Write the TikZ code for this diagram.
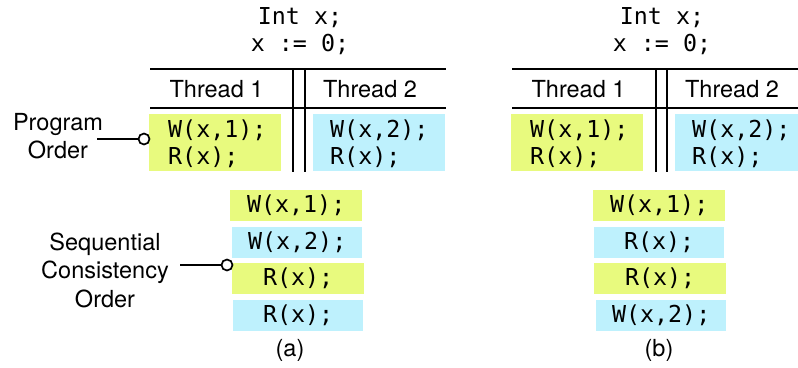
\documentclass[tikz,border=0pt]{standalone}
\usepackage{fontspec}
\setmainfont{TeX Gyre Heros}
\newfontfamily\codefont{DejaVu Sans Mono}
\definecolor{ylw}{RGB}{232,250,126}
\definecolor{blu}{RGB}{190,241,253}
\begin{document}
\begin{tikzpicture}[x=1pt,y=-1pt,
  code/.style={font={\fontsize{23.3}{27}\selectfont\codefont},inner sep=0pt,align=left},
  lbl/.style={font={\fontsize{23.5}{28}\selectfont},inner sep=0pt,align=center},
  rule/.style={line width=1.5pt},
  ybox/.style={fill=ylw,draw=none,inner sep=0pt,anchor=north west},
  bbox/.style={fill=blu,draw=none,inner sep=0pt,anchor=north west},
  pin/.style={circle,draw,line width=1.7pt,fill=white,minimum size=11pt,inner sep=0pt},
  conn/.style={line width=1.5pt}]
\useasboundingbox (0,0) rectangle (798,367);

% ---------- (a) ----------
\node[code,align=center] (ia) at (300,31) {Int x;\\x := 0;};
\coordinate (ha1) at (150,69);  \coordinate (ha2) at (446,69);
\coordinate (hb1) at (150,108); \coordinate (hb2) at (446,108);
\draw[rule] (ha1) -- (ha2);
\draw[rule] (hb1) -- (hb2);
\coordinate (va1) at (293,69); \coordinate (va2) at (293,172);
\coordinate (vb1) at (305,69); \coordinate (vb2) at (305,172);
\draw[rule] (va1) -- (va2);
\draw[rule] (vb1) -- (vb2);
\node[lbl] (th1a) at (216.5,89) {Thread 1};
\node[lbl] (th2a) at (370,89) {Thread 2};
\node[ybox,minimum width=132pt,minimum height=57pt] (p1a) at (149,114) {};
\node[bbox,minimum width=132pt,minimum height=57pt] (p2a) at (313,114) {};
\node[code,anchor=west] (c1a) at ([xshift=19pt,yshift=-1pt]p1a.west) {W(x,1);\\R(x);};
\node[code,anchor=west] (c2a) at ([xshift=17pt,yshift=-1pt]p2a.west) {W(x,2);\\R(x);};

\node[lbl] (po) at (58,136.5) {Program\\Order};
\coordinate (poS) at (97,139);
\node[pin] (poC) at (144,139) {};
\draw[conn] (poS) -- (poC);

\node[ybox,minimum width=132pt,minimum height=31pt] (s1a) at (230,190) {};
\node[bbox,minimum width=130pt,minimum height=31pt] (s2a) at (232,227) {};
\node[ybox,minimum width=132pt,minimum height=31pt] (s3a) at (232,263) {};
\node[bbox,minimum width=130pt,minimum height=31pt] (s4a) at (233,300) {};
\node[code] at (s1a.center) {W(x,1);};
\node[code] at (s2a.center) {W(x,2);};
\node[code] at (s3a.center) {R(x);};
\node[code] at (s4a.center) {R(x);};

\node[lbl,font={\fontsize{23.5}{28.5}\selectfont}] (sc) at (105,270) {Sequential\\Consistency\\Order};
\coordinate (scS) at (180,265);
\node[pin] (scC) at (227,265) {};
\draw[conn] (scS) -- (scC);

\node[lbl] (capa) at (290,350) {(a)};

% ---------- (b) ----------
\node[code,align=center] (ib) at (662,31) {Int x;\\x := 0;};
\coordinate (hc1) at (512,69);  \coordinate (hc2) at (798,69);
\coordinate (hd1) at (512,108); \coordinate (hd2) at (798,108);
\draw[rule] (hc1) -- (hc2);
\draw[rule] (hd1) -- (hd2);
\coordinate (vc1) at (656,69); \coordinate (vc2) at (656,172);
\coordinate (vd1) at (667,69); \coordinate (vd2) at (667,172);
\draw[rule] (vc1) -- (vc2);
\draw[rule] (vd1) -- (vd2);
\node[lbl] (th1b) at (578.5,89) {Thread 1};
\node[lbl] (th2b) at (732,89) {Thread 2};
\node[ybox,minimum width=132pt,minimum height=57pt] (p1b) at (511,114) {};
\node[bbox,minimum width=123pt,minimum height=57pt] (p2b) at (675,114) {};
\node[code,anchor=west] (c1b) at ([xshift=19pt,yshift=-1pt]p1b.west) {W(x,1);\\R(x);};
\node[code,anchor=west] (c2b) at ([xshift=17pt,yshift=-1pt]p2b.west) {W(x,2);\\R(x);};

\node[ybox,minimum width=132pt,minimum height=31pt] (s1b) at (593,190) {};
\node[bbox,minimum width=130pt,minimum height=31pt] (s2b) at (594,227) {};
\node[ybox,minimum width=132pt,minimum height=31pt] (s3b) at (594,263) {};
\node[bbox,minimum width=130pt,minimum height=31pt] (s4b) at (596,300) {};
\node[code] at (s1b.center) {W(x,1);};
\node[code] at (s2b.center) {R(x);};
\node[code] at (s3b.center) {R(x);};
\node[code] at (s4b.center) {W(x,2);};

\node[lbl] (capb) at (659,350) {(b)};
\end{tikzpicture}
\end{document}
